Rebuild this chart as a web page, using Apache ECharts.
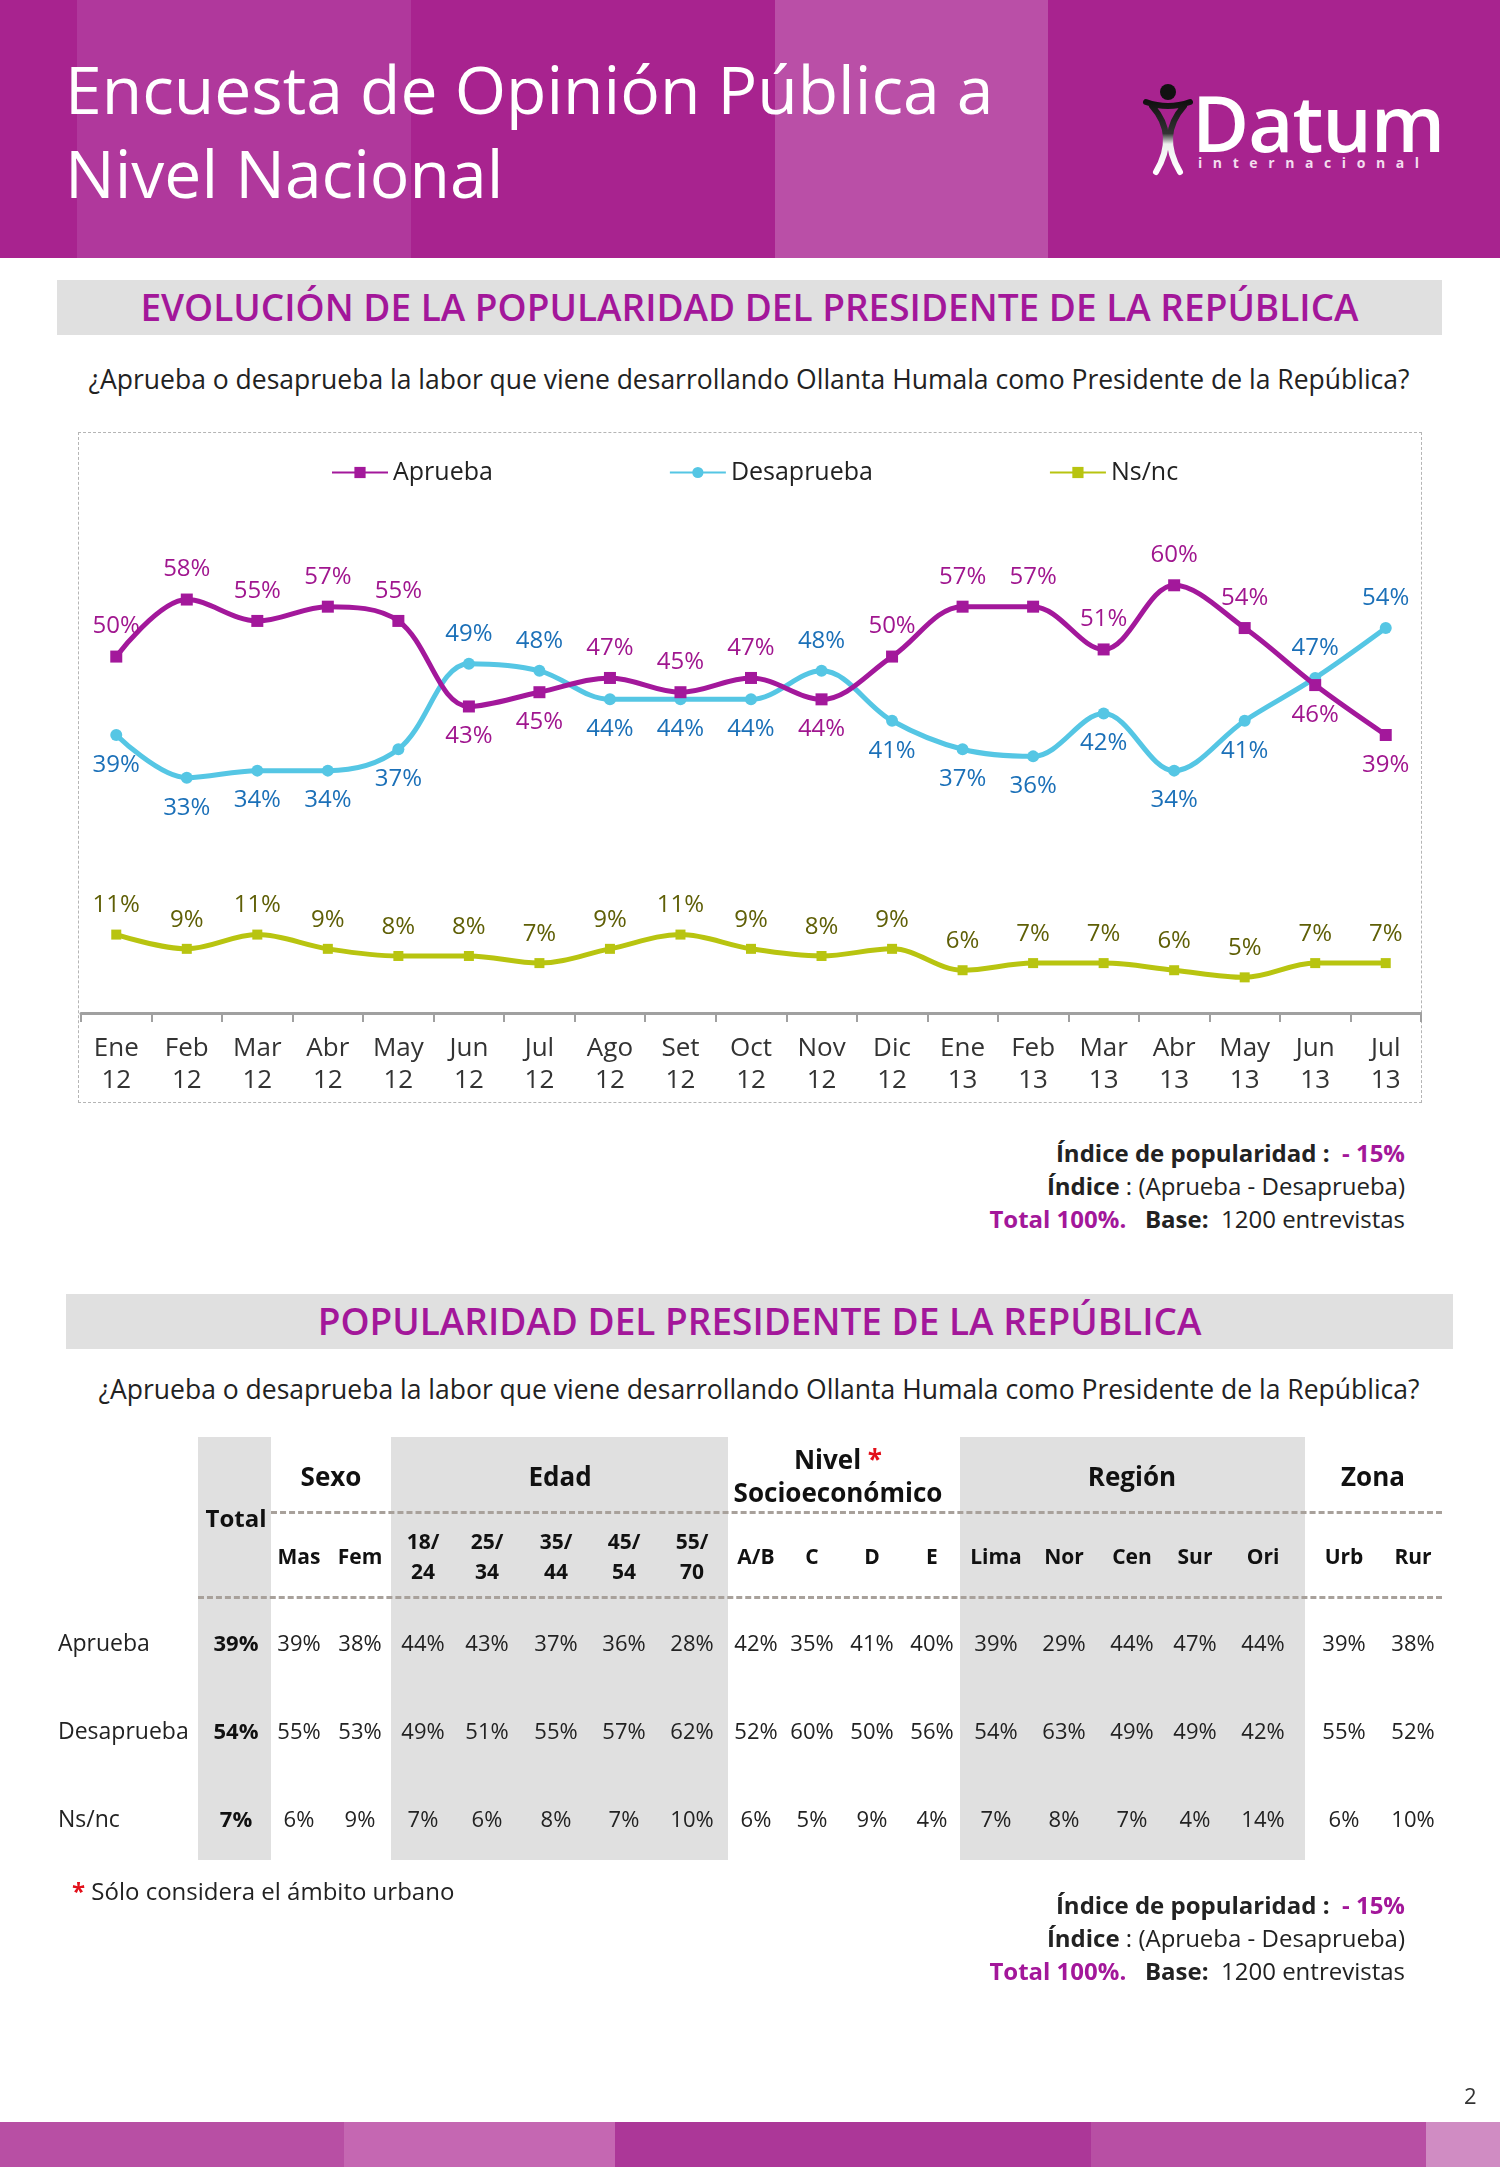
<!DOCTYPE html>
<html>
<head>
<meta charset="utf-8">
<script src="https://cdn.jsdelivr.net/npm/echarts/dist/echarts.min.js"></script>
<style>
  html, body { margin:0; padding:0; }
  body { width:1500px; height:2167px; position:relative; background:#fff; font-family:"Open Sans", "DejaVu Sans", sans-serif; color:#222; overflow:hidden; }
  .abs { position:absolute; }
  .stripe { position:absolute; top:0; height:258px; }
  .fstripe { position:absolute; top:2122px; height:45px; }
  .bar { position:absolute; background:#e0e0e0; }
  .sectitle { position:absolute; left:0; width:100%; text-align:center; color:#a3179a; font-size:37px; font-weight:600; }
  .question { position:absolute; text-align:center; font-size:26.5px; color:#222; white-space:nowrap; }
  .notes { position:absolute; right:95px; text-align:right; font-size:24px; line-height:33px; color:#222; white-space:nowrap; }
  .notes b { font-weight:700; }
  .mag { color:#a3179a; font-weight:700; }
  .tcell { position:absolute; transform:translate(-50%,-50%); white-space:nowrap; text-align:center; }
  .thead { font-weight:700; font-size:26px; color:#111; line-height:33px; }
  .tsub { font-weight:700; font-size:21px; color:#111; line-height:30px; }
  .tval { font-size:22px; color:#222; }
  .trow { position:absolute; transform:translateY(-50%); font-size:23px; color:#222; }
  .dash { position:absolute; height:0; border-top:3px dashed #a8a19b; }
  .shade { position:absolute; background:#e0e0e0; }
</style>
</head>
<body>
<!-- header -->
<div class="stripe" style="left:0;width:77px;background:#a8238f;"></div>
<div class="stripe" style="left:77px;width:334px;background:#b0389c;"></div>
<div class="stripe" style="left:411px;width:364px;background:#a8238f;"></div>
<div class="stripe" style="left:775px;width:273px;background:#ba4fa7;"></div>
<div class="stripe" style="left:1048px;width:452px;background:#a8238f;"></div>
<div class="abs" style="left:65px;top:46px;font-size:66px;line-height:84px;color:#fff;white-space:nowrap;">Encuesta de Opinión Pública a<br>Nivel Nacional</div>
<svg class="abs" style="left:1138px;top:80px;" width="60" height="100" viewBox="0 0 60 100">
  <defs>
    <linearGradient id="fig" x1="0" y1="0" x2="0" y2="1">
      <stop offset="0" stop-color="#111"/>
      <stop offset="0.45" stop-color="#333"/>
      <stop offset="0.6" stop-color="#eee"/>
      <stop offset="1" stop-color="#fff"/>
    </linearGradient>
  </defs>
  <circle cx="30" cy="12" r="8" fill="#111"/>
  <path d="M8 22 Q30 30 52 22 M14 26 Q40 55 18 92 M46 26 Q20 55 42 92" stroke="url(#fig)" stroke-width="6" fill="none" stroke-linecap="round"/>
</svg>
<div class="abs" style="left:1192px;top:72px;font-size:78px;font-weight:600;color:#fff;line-height:100px;letter-spacing:-1px;">Datum</div>
<div class="abs" style="left:1198px;top:154px;font-size:14px;font-weight:700;color:#f3dcee;letter-spacing:10.6px;line-height:18px;">internacional</div>

<!-- section 1 -->
<div class="bar" style="left:57px;top:280px;width:1385px;height:55px;">
  <div class="sectitle" style="top:2px;line-height:50px;">EVOLUCIÓN DE LA POPULARIDAD DEL PRESIDENTE DE LA REPÚBLICA</div>
</div>
<div class="question" style="left:0;width:1498px;top:361px;line-height:36px;">¿Aprueba o desaprueba la labor que viene desarrollando Ollanta Humala como Presidente de la República?</div>

<div class="abs" style="left:78px;top:432px;width:1342px;height:669px;border:1.5px dashed #b5b5b5;"></div>
<div id="chart" class="abs" style="left:79px;top:433px;width:1343px;height:670px;"></div>

<div class="notes" style="top:1136px;">
  <div><b>Índice de popularidad :</b> &nbsp;<span class="mag">- 15%</span></div>
  <div><b>Índice</b> : (Aprueba - Desaprueba)</div>
  <div><span class="mag">Total 100%.</span> &nbsp; <b>Base:</b> &nbsp;1200 entrevistas</div>
</div>

<!-- section 2 -->
<div class="bar" style="left:66px;top:1294px;width:1387px;height:55px;">
  <div class="sectitle" style="top:2px;line-height:50px;">POPULARIDAD DEL PRESIDENTE DE LA REPÚBLICA</div>
</div>
<div class="question" style="left:0;width:1518px;top:1371px;line-height:36px;">¿Aprueba o desaprueba la labor que viene desarrollando Ollanta Humala como Presidente de la República?</div>

<div id="table" class="abs" style="left:0;top:0;width:1500px;height:2167px;pointer-events:none;"></div>

<div class="abs" style="left:72px;top:1876px;font-size:24px;line-height:30px;white-space:nowrap;"><span style="color:#e3101a;font-weight:700;">*</span> Sólo considera el ámbito urbano</div>

<div class="notes" style="top:1888px;">
  <div><b>Índice de popularidad :</b> &nbsp;<span class="mag">- 15%</span></div>
  <div><b>Índice</b> : (Aprueba - Desaprueba)</div>
  <div><span class="mag">Total 100%.</span> &nbsp; <b>Base:</b> &nbsp;1200 entrevistas</div>
</div>

<div class="abs" style="left:1464px;top:2080px;font-size:22px;line-height:30px;color:#333;">2</div>

<!-- footer -->
<div class="fstripe" style="left:0;width:344px;background:#b84fa4;"></div>
<div class="fstripe" style="left:344px;width:271px;background:#c567b2;"></div>
<div class="fstripe" style="left:615px;width:476px;background:#ac3798;"></div>
<div class="fstripe" style="left:1091px;width:335px;background:#b84fa4;"></div>
<div class="fstripe" style="left:1426px;width:74px;background:#d08cc3;"></div>

<script>
// ---------- Line chart data ----------
const months = ['Ene 12','Feb 12','Mar 12','Abr 12','May 12','Jun 12','Jul 12','Ago 12','Set 12','Oct 12','Nov 12','Dic 12','Ene 13','Feb 13','Mar 13','Abr 13','May 13','Jun 13','Jul 13'];
const aprueba    = [50,58,55,57,55,43,45,47,45,47,44,50,57,57,51,60,54,46,39];
const desaprueba = [39,33,34,34,37,49,48,44,44,44,48,41,37,36,42,34,41,47,54];
const nsnc       = [11,9,11,9,8,8,7,9,11,9,8,9,6,7,7,6,5,7,7];

// label placement (style only)
const aprLabelPos = ['top','top','top','top','top','bottom','bottom','top','top','top','bottom','top','top','top','top','top','top','bottom','bottom'];
const desLabelPos = ['bottom','bottom','bottom','bottom','bottom','top','top','bottom','bottom','bottom','top','bottom','bottom','bottom','bottom','bottom','bottom','top','top'];

// ---------- Table data ----------
const tableColumns = ['Total','Mas','Fem','18/\n24','25/\n34','35/\n44','45/\n54','55/\n70','A/B','C','D','E','Lima','Nor','Cen','Sur','Ori','Urb','Rur'];
const tableRows = ['Aprueba','Desaprueba','Ns/nc'];
const tAprueba    = [39,39,38,44,43,37,36,28,42,35,41,40,39,29,44,47,44,39,38];
const tDesaprueba = [54,55,53,49,51,55,57,62,52,60,50,56,54,63,49,49,42,55,52];
const tNsnc       = [7,6,9,7,6,8,7,10,6,5,9,4,7,8,7,4,14,6,10];
const tableGroups = ['Sexo','Edad','Nivel *\nSocioeconómico','Región','Zona'];

// ---------- Chart ----------
const FONT = '"Open Sans", "DejaVu Sans", sans-serif';
function mkData(vals, pos) {
  return vals.map((v, i) => pos ? ({ value: v, label: { position: pos[i] } }) : v);
}
const chart = echarts.init(document.getElementById('chart'), null, { renderer: 'canvas' });
chart.setOption({
  animation: false,
  textStyle: { fontFamily: FONT },
  legend: {
    top: 22, left: 247, itemGap: 176, itemWidth: 56, itemHeight: 14,
    textStyle: { fontSize: 25, color: '#222', fontFamily: FONT },
    selectedMode: false,
    data: ['Aprueba', 'Desaprueba', 'Ns/nc']
  },
  grid: { left: 2, right: 1, top: 81, bottom: 90, containLabel: false },
  xAxis: {
    type: 'category', data: months, boundaryGap: true,
    axisLine: { lineStyle: { color: '#a0a0a0', width: 3 } },
    axisTick: { show: true, length: 9, lineStyle: { color: '#a0a0a0', width: 2 } },
    axisLabel: {
      interval: 0, margin: 20, fontSize: 26, lineHeight: 32, color: '#333', fontFamily: FONT,
      formatter: v => v.replace(' ', '\n')
    },
    splitLine: { show: false }
  },
  yAxis: { type: 'value', min: 0, max: 70, show: false, splitLine: { show: false } },
  series: [
    {
      name: 'Aprueba', type: 'line', smooth: 0.35,
      data: mkData(aprueba, aprLabelPos),
      symbol: 'rect', symbolSize: 12,
      lineStyle: { color: '#a3189b', width: 5 },
      itemStyle: { color: '#a3189b' },
      label: { show: true, formatter: '{c}%', fontSize: 24, color: '#a0168f', distance: 12, fontFamily: FONT },
      emphasis: { disabled: true }, z: 3
    },
    {
      name: 'Desaprueba', type: 'line', smooth: 0.35,
      data: mkData(desaprueba, desLabelPos),
      symbol: 'circle', symbolSize: 12,
      lineStyle: { color: '#55c6e4', width: 5 },
      itemStyle: { color: '#55c6e4' },
      label: { show: true, formatter: '{c}%', fontSize: 24, color: '#1b70b8', distance: 12, fontFamily: FONT },
      emphasis: { disabled: true }, z: 2
    },
    {
      name: 'Ns/nc', type: 'line', smooth: 0.35,
      data: mkData(nsnc, null),
      symbol: 'rect', symbolSize: 10,
      lineStyle: { color: '#b8c410', width: 5 },
      itemStyle: { color: '#b8c410' },
      label: { show: true, position: 'top', formatter: '{c}%', fontSize: 24, color: '#5f5f06', distance: 12, fontFamily: FONT },
      emphasis: { disabled: true }, z: 2
    }
  ]
});

// ---------- Table (built from arrays) ----------
const colX = [236,299,360,423,487,556,624,692,756,812,872,932,996,1064,1132,1195,1263,1344,1413];
const groupX = [331,560,838,1132,1373];
const rowY = [1642,1730,1818];
const tbl = document.getElementById('table');
function add(cls, html, x, y, extra) {
  const d = document.createElement('div');
  d.className = cls; d.innerHTML = html;
  d.style.left = x + 'px'; d.style.top = y + 'px';
  if (extra) Object.assign(d.style, extra);
  tbl.appendChild(d); return d;
}
// shaded columns
[[198,271],[391,728],[960,1305]].forEach(([a,b]) => {
  const s = document.createElement('div'); s.className = 'shade';
  Object.assign(s.style, { left: a+'px', top: '1437px', width: (b-a)+'px', height: '423px' });
  tbl.appendChild(s);
});
// dashed lines
[[1512,271],[1597,198]].forEach(([y,x0]) => {
  const s = document.createElement('div'); s.className = 'dash';
  Object.assign(s.style, { left: x0+'px', top: (y-1)+'px', width: (1442-x0)+'px' });
  tbl.appendChild(s);
});
// group headers
tableGroups.forEach((g, i) => {
  const html = g.replace('*', '<span style="color:#e3101a">*</span>').replace('\n', '<br>');
  add('tcell thead', html, groupX[i], 1476);
});
// column headers
tableColumns.forEach((c, i) => {
  if (i === 0) { add('tcell thead', c, colX[i], 1517, { fontSize: '24px' }); return; }
  add('tcell tsub', c.replace('\n', '<br>'), colX[i], 1556);
});
// row labels & values
const tVals = [tAprueba, tDesaprueba, tNsnc];
tableRows.forEach((r, ri) => {
  add('trow', r, 58, rowY[ri]);
  tVals[ri].forEach((v, ci) => {
    add('tcell tval', v + '%', colX[ci], rowY[ri], ci === 0 ? { fontWeight: '700', color: '#111' } : null);
  });
});
</script>
</body>
</html>
